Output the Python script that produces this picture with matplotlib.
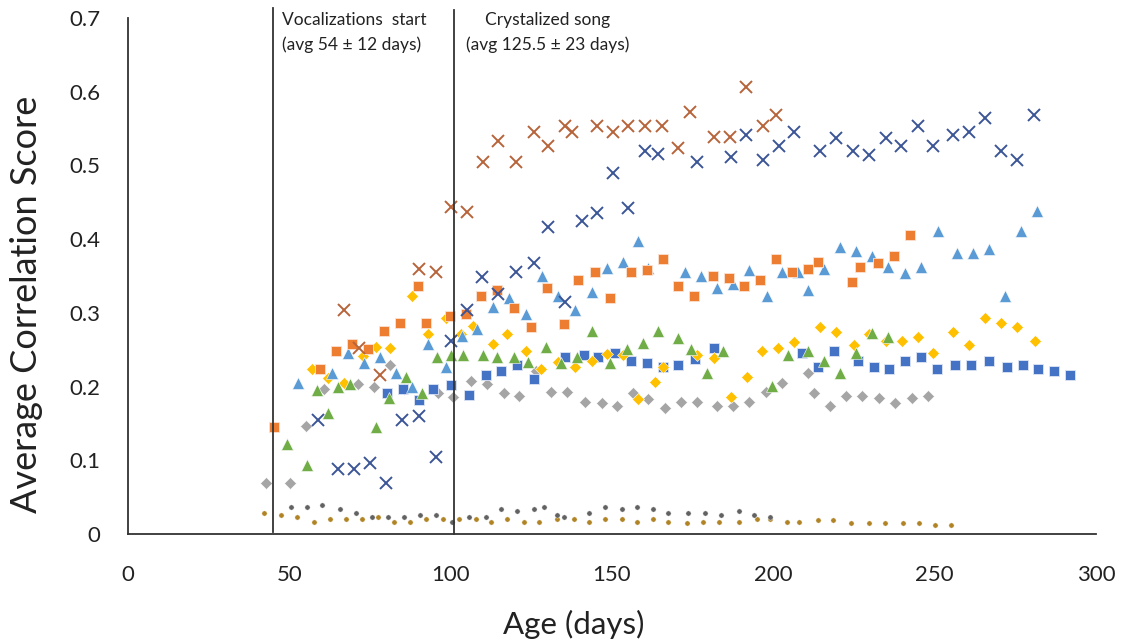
import matplotlib
matplotlib.use('Agg')
import matplotlib.pyplot as plt

plt.rcParams['font.family'] = ['Lato', 'DejaVu Sans']

# brown X series
brown_x = [67.0, 71.7, 78.2, 90.3, 95.6, 100.2, 105.2, 110.1, 114.8, 120.4, 125.7, 130.3, 135.3,
           137.5, 145.2, 150.2, 155.1, 160.1, 165.4, 170.6, 174.1, 181.5, 186.5, 191.4, 196.7, 200.7]
brown_y = [0.304, 0.253, 0.216, 0.360, 0.355, 0.443, 0.437, 0.505, 0.533, 0.505, 0.546, 0.527, 0.553,
           0.545, 0.554, 0.545, 0.553, 0.554, 0.554, 0.523, 0.572, 0.539, 0.539, 0.607, 0.554, 0.569]

# dark blue X series
navyx_x = [59.0, 65.2, 70.1, 75.1, 80.0, 85.0, 90.3, 95.6, 100.2, 105.2, 109.8, 114.8, 120.1, 125.7,
           130.3, 135.3, 140.6, 145.5, 150.2, 155.1, 160.1, 164.4, 176.2, 186.8, 191.4, 196.7, 201.7,
           206.3, 214.4, 219.4, 224.6, 229.6, 234.9, 239.5, 244.8, 249.5, 255.7, 260.6, 265.6, 270.6,
           275.5, 280.8]
navyx_y = [0.155, 0.088, 0.088, 0.096, 0.069, 0.155, 0.160, 0.105, 0.262, 0.304, 0.349, 0.326, 0.355,
           0.368, 0.417, 0.315, 0.424, 0.435, 0.490, 0.442, 0.519, 0.516, 0.505, 0.512, 0.541, 0.508,
           0.526, 0.545, 0.519, 0.537, 0.519, 0.514, 0.537, 0.527, 0.553, 0.527, 0.541, 0.546, 0.564,
           0.519, 0.508, 0.569]

# orange squares
orange_x = [45.3, 59.6, 64.5, 69.5, 74.5, 79.4, 84.4, 90.0, 92.5, 99.9, 104.9, 109.5, 114.5, 119.5,
            125.0, 130.0, 135.0, 139.6, 144.6, 149.5, 155.8, 160.7, 165.7, 170.6, 175.3, 181.2, 186.2,
            190.8, 195.8, 200.7, 205.7, 210.7, 213.8, 224.3, 226.8, 232.4, 237.4, 242.3]
orange_y = [0.145, 0.224, 0.248, 0.258, 0.251, 0.275, 0.286, 0.336, 0.286, 0.296, 0.299, 0.323, 0.331,
            0.307, 0.281, 0.334, 0.285, 0.345, 0.356, 0.320, 0.356, 0.358, 0.373, 0.336, 0.323, 0.350,
            0.347, 0.336, 0.345, 0.373, 0.356, 0.360, 0.369, 0.342, 0.362, 0.368, 0.377, 0.406]

# light blue triangles
lblue_x = [52.7, 63.3, 68.3, 73.2, 78.2, 83.2, 88.1, 93.1, 98.7, 103.6, 108.3, 113.2, 118.2, 123.2,
           128.2, 133.4, 138.4, 143.7, 148.6, 153.3, 158.2, 161.3, 172.5, 177.5, 182.4, 187.4, 192.4,
           198.0, 202.6, 207.6, 210.7, 215.6, 220.6, 225.6, 230.5, 235.5, 240.8, 245.7, 251.0, 256.9,
           261.9, 266.8, 271.8, 276.8, 281.7]
lblue_y = [0.205, 0.218, 0.246, 0.232, 0.240, 0.218, 0.199, 0.258, 0.227, 0.269, 0.278, 0.308, 0.320,
           0.299, 0.350, 0.323, 0.304, 0.328, 0.361, 0.369, 0.398, 0.361, 0.356, 0.350, 0.334, 0.339,
           0.358, 0.323, 0.356, 0.356, 0.331, 0.360, 0.389, 0.384, 0.377, 0.362, 0.354, 0.362, 0.411,
           0.381, 0.381, 0.387, 0.323, 0.411, 0.438]

# green triangles
green_x = [49.3, 55.5, 58.6, 62.1, 65.2, 68.9, 76.9, 81.0, 86.3, 91.2, 95.9, 100.2, 103.9, 110.1,
           114.5, 119.5, 124.1, 129.4, 134.3, 139.3, 143.9, 149.5, 154.5, 159.5, 164.4, 170.6, 174.4,
           179.3, 184.3, 199.5, 204.5, 210.7, 215.6, 220.6, 225.6, 230.5, 235.5]
green_y = [0.122, 0.094, 0.195, 0.164, 0.199, 0.204, 0.145, 0.185, 0.213, 0.191, 0.240, 0.243, 0.243,
           0.243, 0.240, 0.240, 0.233, 0.254, 0.232, 0.240, 0.275, 0.232, 0.251, 0.259, 0.275, 0.266,
           0.251, 0.218, 0.248, 0.201, 0.243, 0.248, 0.235, 0.218, 0.246, 0.273, 0.267]

# yellow diamonds
yellow_x = [57.1, 62.1, 67.0, 72.9, 76.9, 81.3, 88.1, 93.1, 98.7, 103.3, 107.0, 113.2, 117.6, 123.2,
            128.1, 133.4, 138.4, 143.7, 148.6, 153.3, 158.2, 163.2, 165.7, 176.2, 181.5, 186.8, 191.7,
            196.4, 201.4, 206.3, 214.4, 219.4, 224.9, 229.6, 234.9, 239.8, 244.8, 249.5, 255.7, 260.6,
            265.6, 270.6, 275.5, 281.1]
yellow_y = [0.224, 0.212, 0.205, 0.242, 0.254, 0.252, 0.323, 0.271, 0.293, 0.271, 0.282, 0.258, 0.271,
            0.248, 0.224, 0.233, 0.227, 0.235, 0.244, 0.243, 0.183, 0.206, 0.227, 0.243, 0.239, 0.186,
            0.213, 0.248, 0.252, 0.261, 0.281, 0.274, 0.256, 0.271, 0.262, 0.262, 0.267, 0.246, 0.274,
            0.256, 0.293, 0.286, 0.281, 0.262]

# gray diamonds
gray_x = [42.8, 50.3, 55.2, 60.8, 71.4, 76.3, 81.3, 85.6, 96.2, 100.8, 106.4, 111.4, 116.4, 121.3,
          126.6, 131.2, 136.2, 141.5, 146.8, 151.7, 156.4, 161.3, 166.3, 171.3, 176.2, 182.5, 187.4,
          192.4, 197.6, 202.6, 210.7, 212.5, 217.5, 222.5, 227.4, 232.7, 237.7, 242.9, 247.9]
gray_y = [0.069, 0.069, 0.147, 0.197, 0.204, 0.199, 0.229, 0.197, 0.191, 0.186, 0.208, 0.204, 0.191,
          0.187, 0.221, 0.193, 0.193, 0.179, 0.178, 0.174, 0.191, 0.183, 0.171, 0.179, 0.179, 0.174,
          0.174, 0.179, 0.193, 0.205, 0.218, 0.191, 0.174, 0.187, 0.187, 0.185, 0.178, 0.185, 0.187]

# dark blue squares
blue_x = [80.4, 85.3, 90.3, 94.6, 100.2, 105.8, 110.8, 115.7, 120.7, 125.7, 135.3, 141.2, 145.8,
          150.8, 155.8, 160.7, 165.7, 170.6, 175.6, 181.5, 208.8, 213.8, 218.7, 226.2, 231.2, 235.8,
          240.8, 245.7, 250.7, 256.3, 261.2, 266.8, 272.4, 277.4, 282.0, 287.0, 292.0]
blue_y = [0.191, 0.197, 0.182, 0.197, 0.202, 0.189, 0.216, 0.221, 0.229, 0.210, 0.240, 0.243, 0.240,
          0.246, 0.235, 0.232, 0.227, 0.229, 0.237, 0.252, 0.246, 0.227, 0.248, 0.235, 0.227, 0.224,
          0.235, 0.240, 0.224, 0.229, 0.229, 0.235, 0.227, 0.229, 0.224, 0.221, 0.216]

# small dark dots
dark_x = [50.6, 55.5, 60.2, 65.8, 70.7, 75.7, 80.7, 85.6, 90.6, 95.6, 100.5, 105.8, 110.8, 115.7,
          120.7, 125.7, 128.8, 133.1, 135.0, 143.0, 147.7, 153.0, 157.9, 162.6, 167.5, 173.7, 178.7,
          183.7, 189.3, 193.9, 198.9]
dark_y = [0.037, 0.037, 0.039, 0.034, 0.029, 0.023, 0.023, 0.023, 0.026, 0.026, 0.016, 0.023, 0.023,
          0.034, 0.031, 0.034, 0.037, 0.026, 0.023, 0.029, 0.037, 0.034, 0.037, 0.034, 0.029, 0.029,
          0.029, 0.026, 0.031, 0.026, 0.023]

# small gold dots
gold_x = [42.2, 47.5, 52.4, 57.7, 62.7, 67.6, 72.6, 77.6, 82.5, 87.5, 92.5, 97.7, 102.7, 107.7,
          112.6, 117.6, 122.6, 127.5, 133.1, 138.1, 143.0, 147.7, 153.0, 157.9, 162.6, 167.5, 173.1,
          178.1, 183.1, 189.3, 194.9, 198.9, 204.2, 207.9, 213.8, 218.4, 224.0, 229.6, 234.6, 240.1,
          245.1, 250.1, 255.0]
gold_y = [0.029, 0.026, 0.023, 0.016, 0.020, 0.020, 0.020, 0.023, 0.016, 0.016, 0.020, 0.020, 0.020,
          0.020, 0.016, 0.020, 0.016, 0.016, 0.020, 0.020, 0.016, 0.020, 0.020, 0.016, 0.020, 0.016,
          0.015, 0.016, 0.016, 0.016, 0.020, 0.020, 0.016, 0.016, 0.019, 0.019, 0.015, 0.015, 0.015,
          0.015, 0.015, 0.012, 0.012]

# milestone lines (days)
vocal_day = 45
cryst_day = 101

fig = plt.figure(figsize=(11.29, 6.43), dpi=100)
ax = fig.add_axes([128 / 1129, 1 - 534 / 643, (1096 - 128) / 1129, (534 - 18) / 643])

ax.plot(gold_x, gold_y, 'o', ms=3.8, color='#B08425', mec='white', mew=0.3, ls='none')
ax.plot(dark_x, dark_y, 'o', ms=3.8, color='#626262', mec='white', mew=0.3, ls='none')
ax.plot(gray_x, gray_y, 'D', ms=6.2, color='#A5A5A5', mec='white', mew=0.4, ls='none')
ax.plot(blue_x, blue_y, 's', ms=7.5, color='#4472C4', mec='#DDE5F5', mew=0.6, ls='none')
ax.plot(yellow_x, yellow_y, 'D', ms=6.2, color='#FFC000', mec='white', mew=0.4, ls='none')
ax.plot(green_x, green_y, '^', ms=8.5, color='#70AD47', mec='white', mew=0.4, ls='none')
ax.plot(lblue_x, lblue_y, '^', ms=8.5, color='#5B9BD5', mec='white', mew=0.4, ls='none')
ax.plot(orange_x, orange_y, 's', ms=7.5, color='#ED7D31', mec='#FBE2D2', mew=0.6, ls='none')
ax.plot(navyx_x, navyx_y, 'x', ms=8.5, mew=1.4, color='#3B5597', ls='none')
ax.plot(brown_x, brown_y, 'x', ms=8.5, mew=1.4, color='#B8643B', ls='none')

ax.plot([vocal_day, vocal_day], [0.003, 0.714], color='#333333', lw=1.3, clip_on=False)
ax.plot([cryst_day, cryst_day], [0, 0.711], color='#333333', lw=1.3, clip_on=False)

ax.set_xlim(0, 300)
ax.set_ylim(0, 0.7)
ax.set_xticks([0, 50, 100, 150, 200, 250, 300])
ax.set_yticks([0, 0.1, 0.2, 0.3, 0.4, 0.5, 0.6, 0.7])
ax.set_yticklabels(['0', '0.1', '0.2', '0.3', '0.4', '0.5', '0.6', '0.7'])
ax.tick_params(axis='both', length=0, labelsize=16, colors='#222222')
ax.tick_params(axis='y', pad=20)
ax.tick_params(axis='x', pad=22)
for s in ['top', 'right']:
    ax.spines[s].set_visible(False)
for s in ['left', 'bottom']:
    ax.spines[s].set_color('#333333')
    ax.spines[s].set_linewidth(1.3)

fig.text(574 / 1129, 1 - 624 / 643, 'Age (days)', ha='center', va='center', fontsize=22.5, color='#222222')
fig.text(27 / 1129, 1 - 304 / 643, 'Average Correlation Score', ha='center', va='center',
         rotation=90, fontsize=26, color='#222222')

fig.text(282 / 1129, 1 - 20 / 643, 'Vocalizations  start', ha='left', va='center', fontsize=12.5, color='#222222')
fig.text(282 / 1129, 1 - 45 / 643, '(avg 54 ± 12 days)', ha='left', va='center', fontsize=12.5, color='#222222')
fig.text(548 / 1129, 1 - 20 / 643, 'Crystalized song', ha='center', va='center', fontsize=12.5, color='#222222')
fig.text(548 / 1129, 1 - 45 / 643, '(avg 125.5 ± 23 days)', ha='center', va='center', fontsize=12.5, color='#222222')

fig.savefig('out.png', dpi=100)
